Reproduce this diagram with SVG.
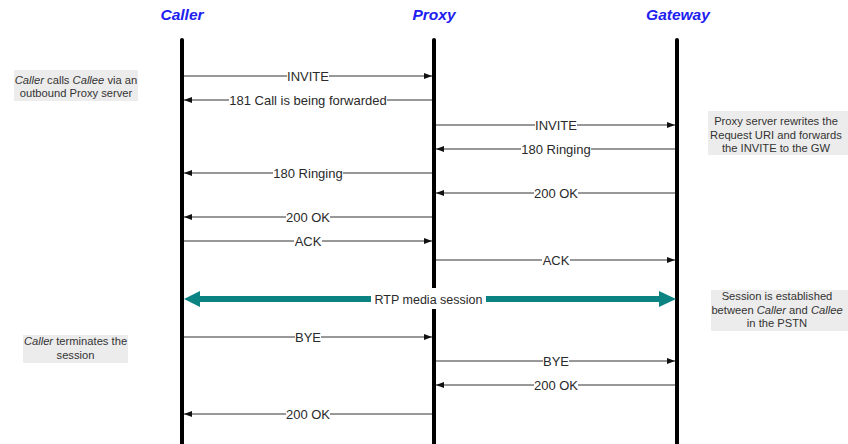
<svg xmlns="http://www.w3.org/2000/svg" width="848" height="444" viewBox="0 0 848 444">
<style>
.title{font-family:"Liberation Sans",Arial,sans-serif;font-size:15.5px;font-weight:bold;font-style:italic;fill:#2020f0;text-anchor:middle}
.life{stroke:#000;stroke-width:4;stroke-linecap:round}
.msg{stroke:#333;stroke-width:1.2;fill:none;marker-end:url(#ah)}
.lbl{font-family:"Liberation Sans",Arial,sans-serif;font-size:13px;fill:#2a2a2a;text-anchor:middle}
.bg{fill:#fff}
.note{fill:#ececec}
.nt{font-family:"Liberation Sans",Arial,sans-serif;font-size:11.2px;fill:#333;text-anchor:middle}
.rtp{stroke:#0b8383;stroke-width:6}
</style>
<defs>
<marker id="ah" viewBox="0 0 8 6" refX="8" refY="3" markerWidth="8" markerHeight="6" orient="auto" markerUnits="userSpaceOnUse"><path d="M0,0 L8,3 L0,6 z" fill="#111"/></marker>
</defs>

<g id="caller"><text class="title" x="182" y="20">Caller</text><line class="life" x1="182" y1="40" x2="182" y2="446"/></g>
<g id="proxy"><text class="title" x="434" y="20">Proxy</text><line class="life" x1="434" y1="40" x2="434" y2="446"/></g>
<g id="gateway"><text class="title" x="678" y="20">Gateway</text><line class="life" x1="677" y1="40" x2="677" y2="446"/></g>

<g id="connectors">
<line class="msg" x1="184" y1="76" x2="432" y2="76"/>
<rect class="bg" x="287" y="68" width="42" height="16"/><text class="lbl" x="308" y="80.5">INVITE</text>

<line class="msg" x1="432" y1="100" x2="184" y2="100"/>
<rect class="bg" x="229" y="92" width="158" height="16"/><text class="lbl" x="308" y="104.5">181 Call is being forwarded</text>

<line class="msg" x1="436" y1="125" x2="675" y2="125"/>
<rect class="bg" x="535" y="117" width="42" height="16"/><text class="lbl" x="556" y="129.5">INVITE</text>

<line class="msg" x1="675" y1="149" x2="436" y2="149"/>
<rect class="bg" x="521" y="141" width="70" height="16"/><text class="lbl" x="556" y="153.5">180 Ringing</text>

<line class="msg" x1="432" y1="173" x2="184" y2="173"/>
<rect class="bg" x="273" y="165" width="70" height="16"/><text class="lbl" x="308" y="177.5">180 Ringing</text>

<line class="msg" x1="675" y1="193" x2="436" y2="193"/>
<rect class="bg" x="534" y="185" width="44" height="16"/><text class="lbl" x="556" y="197.5">200 OK</text>

<line class="msg" x1="432" y1="217" x2="184" y2="217"/>
<rect class="bg" x="286" y="209" width="44" height="16"/><text class="lbl" x="308" y="221.5">200 OK</text>

<line class="msg" x1="184" y1="241" x2="432" y2="241"/>
<rect class="bg" x="294" y="233" width="28" height="16"/><text class="lbl" x="308" y="245.5">ACK</text>

<line class="msg" x1="436" y1="260" x2="675" y2="260"/>
<rect class="bg" x="542" y="252" width="28" height="16"/><text class="lbl" x="556" y="264.5">ACK</text>

<line class="rtp" x1="198" y1="299" x2="661" y2="299"/>
<path d="M184,299 L200,291 L200,307 z" fill="#0b8383"/>
<path d="M676,299 L659,291 L659,307 z" fill="#0b8383"/>
<rect class="bg" x="371" y="288" width="115" height="21"/>
<text class="lbl" style="font-size:12.5px" x="428.5" y="303.5">RTP media session</text>

<line class="msg" x1="184" y1="337" x2="432" y2="337"/>
<rect class="bg" x="295" y="329" width="26" height="16"/><text class="lbl" x="308" y="341.5">BYE</text>

<line class="msg" x1="436" y1="361" x2="675" y2="361"/>
<rect class="bg" x="543" y="353" width="26" height="16"/><text class="lbl" x="556" y="365.5">BYE</text>

<line class="msg" x1="675" y1="385" x2="436" y2="385"/>
<rect class="bg" x="534" y="377" width="44" height="16"/><text class="lbl" x="556" y="389.5">200 OK</text>

<line class="msg" x1="432" y1="414" x2="184" y2="414"/>
<rect class="bg" x="286" y="406" width="44" height="16"/><text class="lbl" x="308" y="418.5">200 OK</text>
</g>

<g id="note1">
<rect class="note" x="14" y="70" width="124" height="31"/>
<text class="nt" x="76" y="83.5"><tspan font-style="italic">Caller</tspan> calls <tspan font-style="italic">Callee</tspan> via an</text>
<text class="nt" x="76" y="97">outbound Proxy server</text>
</g>
<g id="note2">
<rect class="note" x="708" y="111" width="140" height="44"/>
<text class="nt" x="776" y="125">Proxy server rewrites the</text>
<text class="nt" x="776" y="139">Request URI and forwards</text>
<text class="nt" x="776" y="152">the INVITE to the GW</text>
</g>
<g id="note3">
<rect class="note" x="711" y="290" width="137" height="41"/>
<text class="nt" x="777" y="300">Session is established</text>
<text class="nt" x="777" y="314">between <tspan font-style="italic">Caller</tspan> and <tspan font-style="italic">Callee</tspan></text>
<text class="nt" x="777" y="327">in the PSTN</text>
</g>
<g id="note4">
<rect class="note" x="23" y="335" width="105" height="28"/>
<text class="nt" x="75.5" y="345"><tspan font-style="italic">Caller</tspan> terminates the</text>
<text class="nt" x="75.5" y="359">session</text>
</g>
</svg>
